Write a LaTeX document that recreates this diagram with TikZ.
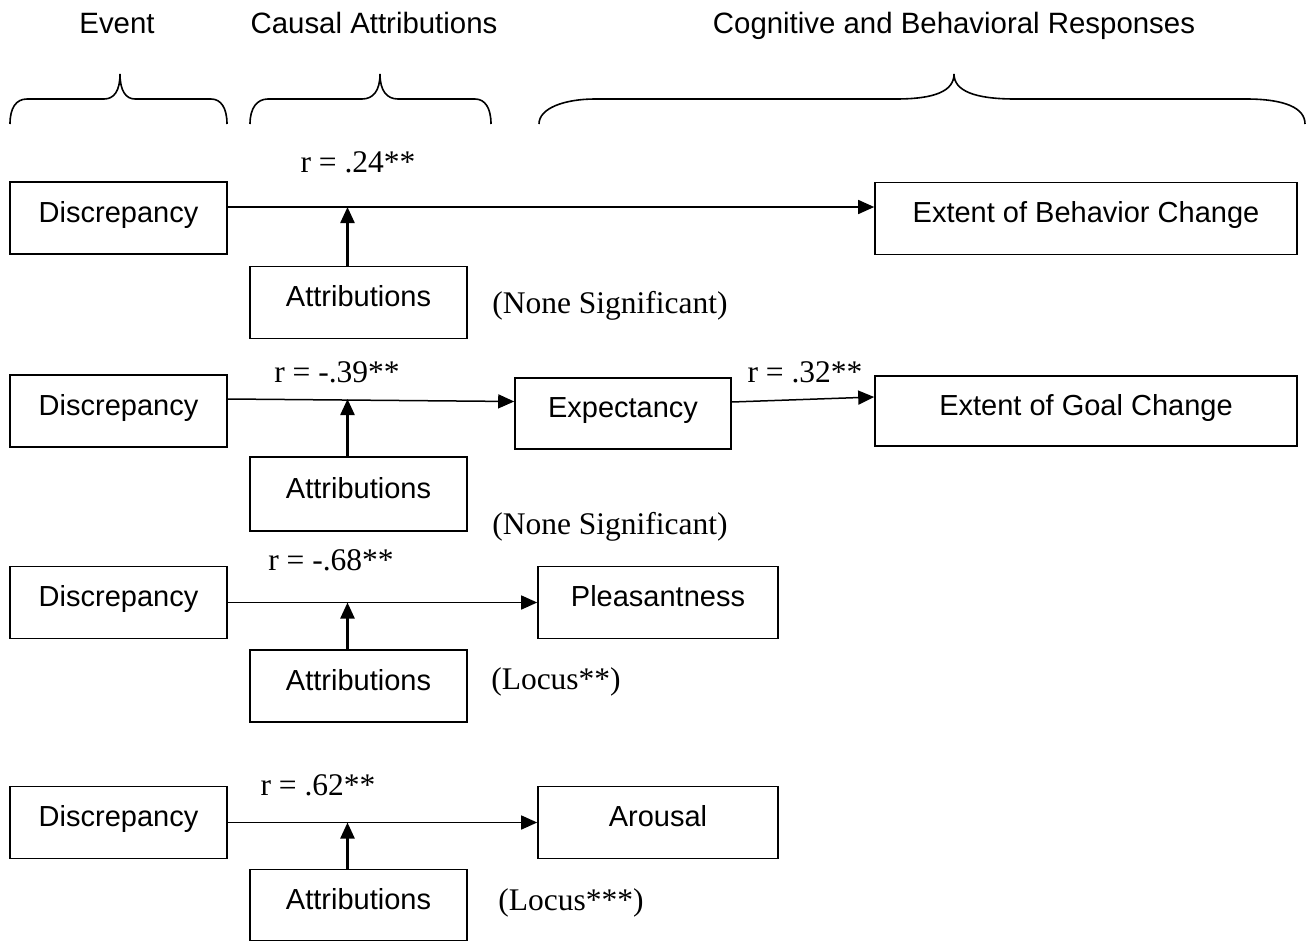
\documentclass[tikz,border=0pt]{standalone}
\usepackage{fontspec}
\setmainfont{Liberation Serif}
\setsansfont{Liberation Sans}
\usetikzlibrary{arrows.meta,positioning}

\begin{document}
\begin{tikzpicture}[
  x=0.5pt,y=-0.5pt,
  >={Triangle[length=8pt,width=7pt]},
  box/.style={draw,line width=0.8pt,minimum width=108.5pt,minimum height=36pt,inner sep=0pt,text height=11pt,text depth=6.6pt,font=\sffamily\fontsize{14.5}{17}\selectfont},
  wide/.style={box,minimum width=211pt},
  mid/.style={box,minimum width=120pt},
  head/.style={font=\sffamily\fontsize{14.7}{17}\selectfont,anchor=base,inner sep=0pt},
  stat/.style={font=\fontsize{15.75}{19}\selectfont,inner sep=0pt},
  arr/.style={->,line width=0.75pt},
  moder/.style={->,line width=1.2pt},
  brace/.style={line width=0.8pt},
]
\useasboundingbox (0,0) rectangle (1307,942);

\node[head] (event) at (117,33) {Event};
\node[head] (causal) at (374,33) {Causal Attributions};
\node[head] (responses) at (954,33) {Cognitive and Behavioral Responses};

\draw[brace] (10,124) .. controls (10,108) and (16,99) .. (27,99) -- (104,99) .. controls (114,99) and (120,91) .. (120,74)
  .. controls (120,91) and (126,99) .. (135,99) -- (211,99) .. controls (221,99) and (227,108) .. (227,124);
\draw[brace] (250,124) .. controls (250,108) and (257,99) .. (268,99) -- (362,99) .. controls (373,99) and (380,91) .. (380,74)
  .. controls (380,91) and (387,99) .. (398,99) -- (475,99) .. controls (485,99) and (491,108) .. (491,124);
\draw[brace] (539,124) .. controls (539,108) and (565,99) .. (595,99) -- (896,99) .. controls (935,99) and (954,91) .. (954,74)
  .. controls (954,91) and (975,99) .. (1015,99) -- (1246,99) .. controls (1285,99) and (1305,108) .. (1305,124);

\node[box] (disc1) at (118.5,218) {Discrepancy};
\node[wide] (behav) at (1086,218.5) {Extent of Behavior Change};
\node[box] (attr1) at (358.5,302.5) {Attributions};
\node[stat] (r1) at (358,162) {r = .24**};
\node[stat] (ns1) at (610,306) {(None Significant)};
\coordinate (l1) at ([yshift=5.5pt]disc1.east);
\coordinate (m1) at ([xshift=-5.5pt]attr1.north);
\draw[arr] (l1) -- (l1 -| behav.west);
\draw[moder] (m1) -- (m1 |- l1);

\node[box] (disc2) at (118.5,411) {Discrepancy};
\node[box,minimum width=108pt,minimum height=35.5pt] (expect) at (623,413.5) {Expectancy};
\node[wide,minimum height=35pt] (goal) at (1086,411) {Extent of Goal Change};
\node[box,minimum height=37pt] (attr2) at (358.5,494) {Attributions};
\node[stat] (r2) at (337,372) {r = -.39**};
\node[stat] (r3) at (805,372) {r = .32**};
\node[stat] (ns2) at (610,527) {(None Significant)};
\coordinate (l2) at ([yshift=6pt]disc2.east);
\coordinate (m2) at ([xshift=-5.5pt]attr2.north);
\draw[arr] (l2) -- ([yshift=6pt]expect.west);
\draw[arr] ([yshift=5.75pt]expect.east) -- ([yshift=7pt]goal.west);
\draw[moder] (m2) -- (m2 |- l2);

\node[box] (disc3) at (118.5,602.5) {Discrepancy};
\node[mid] (pleas) at (658,602.5) {Pleasantness};
\node[box] (attr3) at (358.5,686) {Attributions};
\node[stat] (r4) at (331,560) {r = -.68**};
\node[stat] (locus1) at (556,682) {(Locus**)};
\coordinate (m3) at ([xshift=-5.5pt]attr3.north);
\draw[arr] (disc3) -- (pleas);
\draw[moder] (m3) -- (m3 |- disc3.east);

\node[box] (disc4) at (118.5,822.5) {Discrepancy};
\node[mid] (arousal) at (658,822.5) {Arousal};
\node[box,minimum height=35.5pt] (attr4) at (358.5,905) {Attributions};
\node[stat] (r5) at (318,785) {r = .62**};
\node[stat] (locus2) at (571,903) {(Locus***)};
\coordinate (m4) at ([xshift=-5.5pt]attr4.north);
\draw[arr] (disc4) -- (arousal);
\draw[moder] (m4) -- (m4 |- disc4.east);

\end{tikzpicture}
\end{document}
